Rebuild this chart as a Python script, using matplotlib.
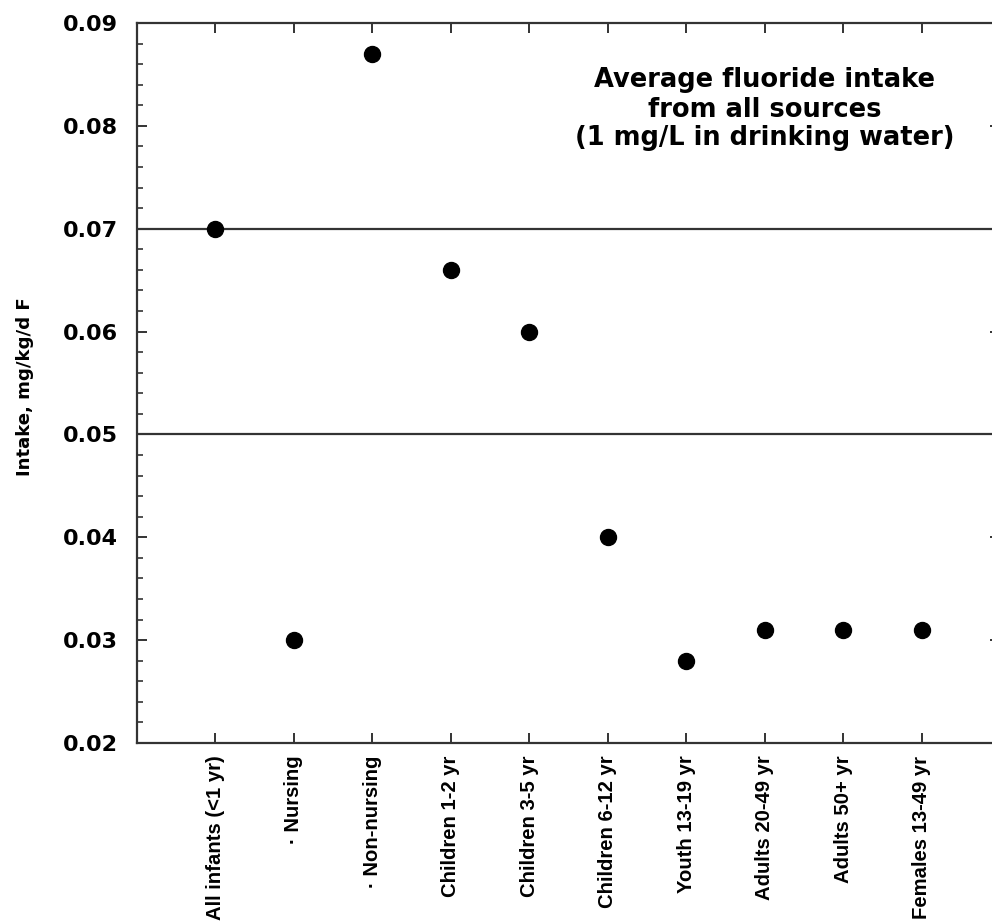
import matplotlib
matplotlib.use("Agg")
import matplotlib.pyplot as plt
from matplotlib.ticker import MultipleLocator

categories = ["All infants (<1 yr)", "· Nursing", "· Non-nursing", "Children 1-2 yr",
              "Children 3-5 yr", "Children 6-12 yr", "Youth 13-19 yr",
              "Adults 20-49 yr", "Adults 50+ yr", "Females 13-49 yr"]
intake = [0.070, 0.030, 0.087, 0.066, 0.060, 0.040, 0.028, 0.031, 0.031, 0.031]
ref_lines = [0.07, 0.05]
y_ticks = [0.02, 0.03, 0.04, 0.05, 0.06, 0.07, 0.08, 0.09]
title_lines = ["Average fluoride intake", "from all sources", "(1 mg/L in drinking water)"]
y_label = "Intake, mg/kg/d F"

plt.rcParams['font.family'] = ['DejaVu Sans']

W, H = 992, 922
fig = plt.figure(figsize=(W / 100, H / 100), dpi=100)
left, right, top, bottom = 137, 1000, 23, 743
ax = fig.add_axes([left / W, 1 - bottom / H, (right - left) / W, (bottom - top) / H])

x = list(range(len(categories)))
ax.set_xlim(-1, len(categories))
ax.set_ylim(0.02, 0.09)

for v in ref_lines:
    ax.axhline(v, color="#333333", lw=1.6, zorder=1)

ax.plot(x, intake, 'o', color="black", markersize=11.5, zorder=3, clip_on=False)

ax.set_yticks(y_ticks)
ax.set_yticklabels([f"{v:.2f}" for v in y_ticks], fontsize=16, fontweight="bold")
ax.yaxis.set_minor_locator(MultipleLocator(0.002))
ax.set_xticks(x)
ax.set_xticklabels(categories, rotation=90, fontsize=14.6, fontweight="bold",
                   family=["Liberation Sans", "DejaVu Sans"])

ax.tick_params(axis="both", which="major", direction="in", length=7, width=1.4,
               color="#333333", top=True, right=True)
ax.tick_params(axis="y", which="minor", direction="in", length=4.2, width=1.2,
               color="#333333", right=True, left=True)
ax.tick_params(axis="x", which="major", pad=9)
ax.tick_params(axis="y", which="major", pad=14)

for s in ax.spines.values():
    s.set_color("#333333")
    s.set_linewidth(1.6)

fig.text(25 / W, 1 - 387 / H, y_label, rotation=90, ha="center", va="center",
         fontsize=13.1, fontweight="bold")

baselines = [87, 117, 145]
for line, yb in zip(title_lines, baselines):
    fig.text(765 / W, 1 - yb / H, line, ha="center", va="baseline",
             fontsize=18.5, fontweight="bold")

fig.savefig("out.png", dpi=100)
